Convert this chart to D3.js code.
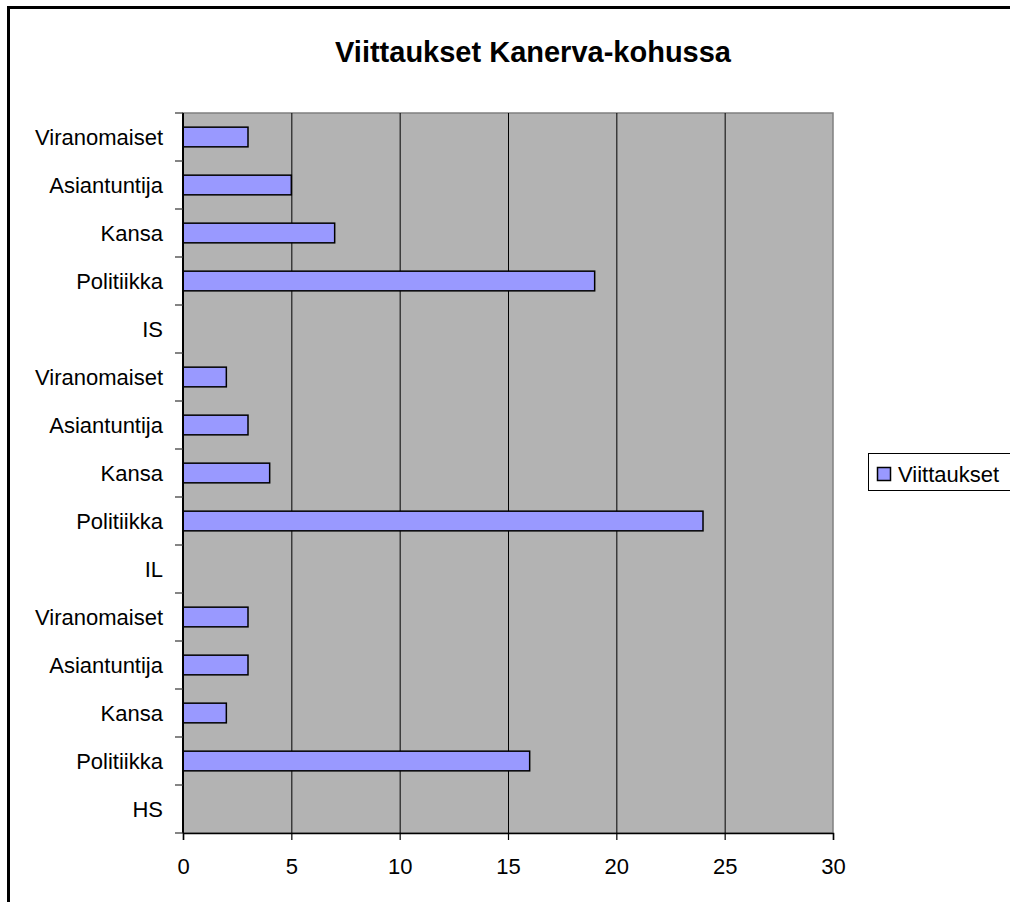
<!DOCTYPE html>
<html>
<meta charset="utf-8" />
<script src="https://d3js.org/d3.v7.min.js"></script>
<style>
  body { margin: 0; background: #fff; overflow: hidden; }
  svg { display: block; }
  text { font-family: "Liberation Sans", Arial, sans-serif; }
</style>
<body>
<div id="chart"></div>
<script>
// categories from bottom to top, as Excel draws them
var categories = ["HS", "Politiikka", "Kansa", "Asiantuntija", "Viranomaiset",
                  "IL", "Politiikka", "Kansa", "Asiantuntija", "Viranomaiset",
                  "IS", "Politiikka", "Kansa", "Asiantuntija", "Viranomaiset"];
var values = [0, 16, 2, 3, 3, 0, 24, 4, 3, 2, 0, 19, 7, 5, 3];
var xTicks = [0, 5, 10, 15, 20, 25, 30];
var seriesName = "Viittaukset";
var title = "Viittaukset Kanerva-kohussa";

var W = 1010, H = 902;
var plot = {left: 183, right: 833, top: 113, bottom: 833};

var svg = d3.select("#chart").append("svg")
    .attr("width", W)
    .attr("height", H);

svg.append("rect")
    .attr("width", W).attr("height", H)
    .attr("fill", "white");

// outer frame: only the top and left edges are inside the picture
svg.append("path")
    .attr("d", "M8.5," + H + "V7.5H" + W)
    .attr("fill", "none")
    .attr("stroke", "black")
    .attr("stroke-width", 3);

svg.append("text")
    .attr("x", 533)
    .attr("y", 62)
    .attr("text-anchor", "middle")
    .attr("font-size", 29)
    .attr("font-weight", "bold")
    .text(title);

var x = d3.scaleLinear()
    .domain([0, 30])
    .range([plot.left, plot.right]);

var y = d3.scaleBand()
    .domain(d3.range(categories.length))
    .range([plot.bottom, plot.top])
    .paddingInner(0.59)
    .paddingOuter(0.295);

// plot area
svg.append("rect")
    .attr("x", plot.left)
    .attr("y", plot.top)
    .attr("width", plot.right - plot.left)
    .attr("height", plot.bottom - plot.top)
    .attr("fill", "#b3b3b3")
    .attr("stroke", "#808080")
    .attr("stroke-width", 1.5);

// gridlines
svg.append("g").selectAll("line")
  .data(xTicks.filter(function(d) { return d > 0 && d < 30; }))
  .enter().append("line")
    .attr("x1", function(d) { return x(d) + 0.5; })
    .attr("x2", function(d) { return x(d) + 0.5; })
    .attr("y1", plot.top)
    .attr("y2", plot.bottom)
    .attr("stroke", "black")
    .attr("stroke-width", 1);

// bars
svg.append("g").selectAll("rect")
  .data(values)
  .enter().append("rect")
    .attr("x", x(0))
    .attr("y", function(d, i) { return y(i); })
    .attr("width", function(d) { return x(d) - x(0); })
    .attr("height", y.bandwidth())
    .attr("fill", function(d) { return d > 0 ? "#9999ff" : "none"; })
    .attr("stroke", function(d) { return d > 0 ? "black" : "none"; })
    .attr("stroke-width", 1.5);

// x axis
var xAxis = svg.append("g")
    .attr("transform", "translate(0," + plot.bottom + ")")
    .call(d3.axisBottom(x).tickValues(xTicks).tickSize(7).tickPadding(18));
xAxis.select(".domain").attr("stroke", "black").attr("stroke-width", 1.5);
xAxis.selectAll(".tick line").attr("stroke", "black").attr("stroke-width", 1.2);
xAxis.selectAll("text")
    .attr("font-size", 22)
    .attr("font-family", "Liberation Sans, Arial, sans-serif")
    .attr("fill", "black");

// y axis: line, ticks at band edges, labels at band centres
var step = y.step();
svg.append("line")
    .attr("x1", plot.left).attr("x2", plot.left)
    .attr("y1", plot.top).attr("y2", plot.bottom)
    .attr("stroke", "black")
    .attr("stroke-width", 2);

svg.append("g").selectAll("line")
  .data(d3.range(categories.length + 1))
  .enter().append("line")
    .attr("x1", plot.left - 8)
    .attr("x2", plot.left)
    .attr("y1", function(i) { return plot.bottom - i * step; })
    .attr("y2", function(i) { return plot.bottom - i * step; })
    .attr("stroke", "#333")
    .attr("stroke-width", 1.2);

svg.append("g").selectAll("text")
  .data(categories)
  .enter().append("text")
    .attr("x", plot.left - 20)
    .attr("y", function(d, i) { return y(i) + y.bandwidth() / 2; })
    .attr("dy", "0.36em")
    .attr("text-anchor", "end")
    .attr("font-size", 22)
    .text(function(d) { return d; });

// legend
var legend = svg.append("g");
legend.append("rect")
    .attr("x", 868.5).attr("y", 453.5)
    .attr("width", 160).attr("height", 37)
    .attr("fill", "white")
    .attr("stroke", "black")
    .attr("stroke-width", 1);
legend.append("rect")
    .attr("x", 877.5).attr("y", 467.5)
    .attr("width", 13).attr("height", 13)
    .attr("fill", "#9999ff")
    .attr("stroke", "black")
    .attr("stroke-width", 1.5);
legend.append("text")
    .attr("x", 898)
    .attr("y", 474)
    .attr("dy", "0.36em")
    .attr("font-size", 22)
    .text(seriesName);
</script>
</body>
</html>
